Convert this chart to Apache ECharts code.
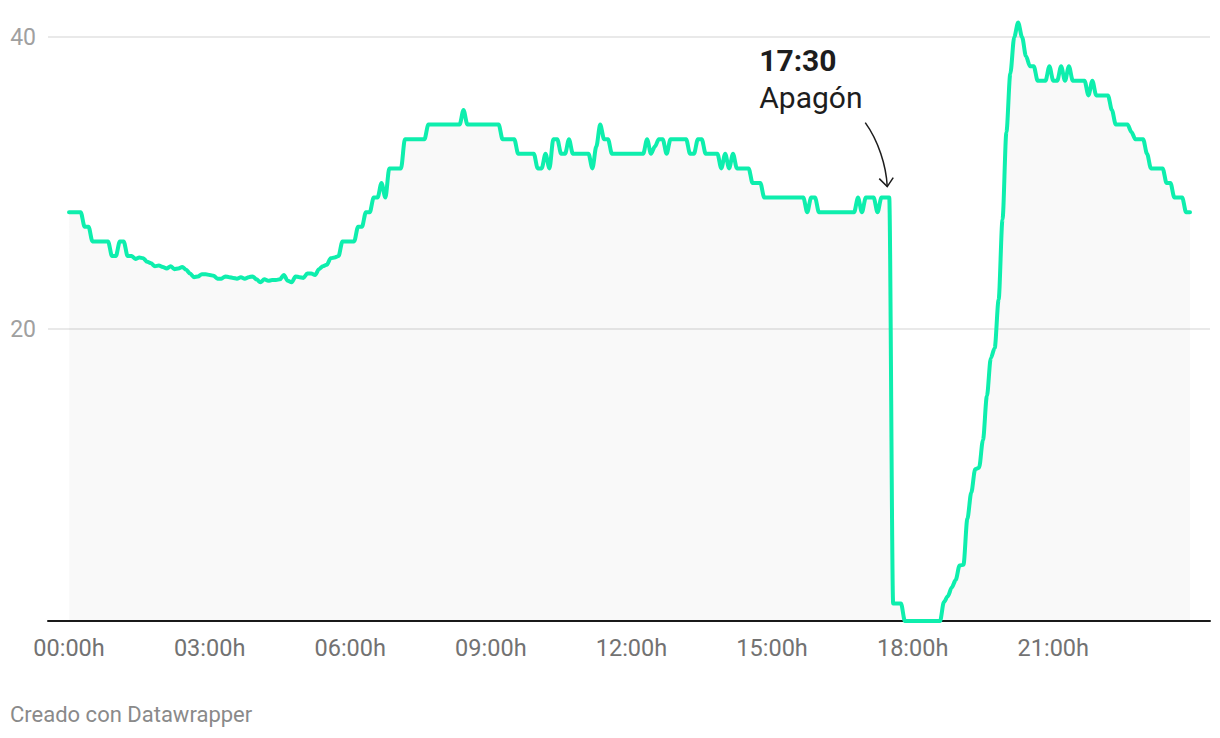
<!DOCTYPE html>
<html>
<head>
<meta charset="utf-8">
<script src="https://cdn.jsdelivr.net/npm/echarts@6/dist/echarts.min.js"></script>
<style>
html,body{margin:0;padding:0;background:#ffffff;}
#chart{width:1220px;height:738px;}
</style>
</head>
<body>
<div id="chart"></div>
<script>
// sampling step of the series (minutes)
const stepMinutes = 5;
// one row per hour (12 samples of 5 minutes each)
const values = [
  28,28,28,28,27,27,26,26,26,26,26,25,
  25,26,26,25,25,24.8,24.9,24.85,24.6,24.5,24.3,24.35,
  24.25,24.15,24.3,24.1,24.15,24.25,24.05,23.8,23.55,23.6,23.75,23.75,
  23.7,23.65,23.45,23.45,23.6,23.55,23.5,23.45,23.55,23.45,23.55,23.6,
  23.4,23.2,23.4,23.3,23.35,23.36,23.4,23.7,23.3,23.2,23.6,23.55,
  23.5,23.8,23.8,23.7,24.1,24.3,24.4,24.85,24.9,25,26,26,
  26,26,27,27,28,28,29,29,30,29,31,31,
  31,31,33,33,33,33,33,33,34,34,34,34,
  34,34,34,34,34,35,34,34,34,34,34,34,
  34,34,34,33,33,33,33,32,32,32,32,32,
  31,31,32,31,33,33,32,32,33,32,32,32,
  32,32,31,32.5,34,33,33,32,32,32,32,32,
  32,32,32,32,33,32,32.5,33,33,32,33,33,
  33,33,33,32,32,33,33,32,32,32,32,31,
  32,31,32,31,31,31,31,30,30,30,29,29,
  29,29,29,29,29,29,29,29,29,28,29,29,
  28,28,28,28,28,28,28,28,28,28,29,28,
  29,29,29,28,29,29,29,1.2,1.2,1.2,0,0,
  0,0,0,0,0,0,0,0,1.3,1.7,2.3,2.8,
  3.8,3.85,7,8.8,10.4,10.5,12.4,15.4,18,18.7,22,27.5,
  33.5,37.5,40,41,40,38.7,38,38,37,37,37,38,
  37,37,38,37,38,37,37,37,37,36,37,36,
  36,36,36,35,34,34,34,34,33.5,33,33,33,
  32,31,31,31,31,30,30,29,29,29,28,28
];
const tickMinutes = [0,180,360,540,720,900,1080,1260];
const tickLabels = ['00:00h','03:00h','06:00h','09:00h','12:00h','15:00h','18:00h','21:00h'];
const yTickValues = [0,20,40];
const annotationMinute = 1050; // 17:30
const annotationTitle = '17:30';
const annotationText = 'Apagón';
const creditText = 'Creado con Datawrapper';

const seriesData = values.map((v, i) => [i * stepMinutes, v]);
const lastMinute = (values.length - 1) * stepMinutes;

const chart = echarts.init(document.getElementById('chart'), null, {renderer: 'svg', width: 1220, height: 738});
const FONT = 'Roboto, "Noto Sans", sans-serif';

chart.setOption({
  animation: false,
  backgroundColor: '#ffffff',
  grid: {left: 48, right: 10, top: 37, bottom: 117, containLabel: false},
  xAxis: {
    type: 'value',
    min: -26.9,
    max: lastMinute + 25.6,
    axisLine: {show: true, onZero: true, lineStyle: {color: '#1a1a1a', width: 2}},
    axisTick: {show: false},
    splitLine: {show: false},
    axisLabel: {
      customValues: tickMinutes,
      formatter: (v) => { const k = tickMinutes.indexOf(v); return k >= 0 ? tickLabels[k] : ''; },
      color: '#727272', fontSize: 23.5, fontFamily: FONT, margin: 15
    }
  },
  yAxis: {
    type: 'value',
    min: yTickValues[0],
    max: yTickValues[yTickValues.length - 1],
    interval: 20,
    axisLine: {show: false},
    axisTick: {show: false},
    splitLine: {show: true, lineStyle: {color: '#e2e2e2', width: 1.5}},
    axisLabel: {
      formatter: (v) => v === 0 ? '' : String(v),
      color: '#a0a0a0', fontSize: 23, fontFamily: FONT, margin: 12
    }
  },
  series: [{
    type: 'line',
    data: seriesData,
    showSymbol: false,
    clip: false,
    smooth: 0.3,
    smoothMonotone: 'x',
    lineStyle: {color: '#0eeead', width: 4, join: 'round', cap: 'round'},
    areaStyle: {color: 'rgba(0,0,0,0.032)', origin: 0},
    z: 3
  }]
});

const anchor = chart.convertToPixel({xAxisIndex: 0, yAxisIndex: 0},
  [annotationMinute, values[annotationMinute / stepMinutes]]);
const ax = anchor[0], ay = anchor[1];

chart.setOption({
  graphic: [
    {type: 'text', left: 10, top: 703, style: {text: creditText, fill: '#8a8a8a', font: '22px ' + FONT}},
    {type: 'text', x: ax - 130, y: ay - 137, style: {text: annotationTitle, fill: '#1d1d1d', font: 'bold 30px ' + FONT, textVerticalAlign: 'middle'}},
    {type: 'text', x: ax - 130, y: ay - 100, style: {text: annotationText, fill: '#1d1d1d', font: '30px ' + FONT, textVerticalAlign: 'middle'}},
    {type: 'bezierCurve', shape: {x1: ax - 24, y1: ay - 75, cpx1: ax - 11, cpy1: ay - 57, cpx2: ax - 3, cpy2: ay - 32, x2: ax - 2, y2: ay - 11},
      style: {stroke: '#1d1d1d', lineWidth: 1.5, fill: null}},
    {type: 'polyline', shape: {points: [[ax - 10, ay - 19], [ax - 2, ay - 11], [ax + 4, ay - 20]]},
      style: {stroke: '#1d1d1d', lineWidth: 1.5, fill: null}}
  ]
});
</script>
</body>
</html>
